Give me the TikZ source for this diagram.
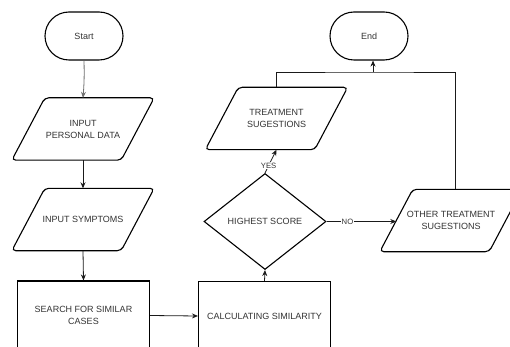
\documentclass[tikz,border=0pt]{standalone}
\usepackage{fontspec}
\setmainfont{Liberation Sans}
\usetikzlibrary{shapes.geometric,arrows.meta}
\definecolor{txt}{HTML}{333333}
\definecolor{wire}{HTML}{1A1A1A}
\definecolor{softwire}{HTML}{707070}
% slanted input/output frame around a node, 33pt of lean
\newcommand\ioframe[1]{%
  \draw[outline, rounded corners=4pt]
    ([xshift=-16.5pt]#1.south west) -- ([xshift=-16.5pt]#1.south east) --
    ([xshift=16.5pt]#1.north east) -- ([xshift=16.5pt]#1.north west) -- cycle;}
\begin{document}
\begin{tikzpicture}[x=1pt,y=-1pt,
  every node/.style={font=\fontsize{9}{12}\selectfont, text=txt, align=center, inner sep=0pt},
  outline/.style={line width=1.1pt, draw=black},
  term/.style={draw, outline, rounded corners=24pt, minimum width=78pt, minimum height=48pt},
  io/.style={rectangle, minimum width=109pt, minimum height=62pt},
  proc/.style={draw, outline, rectangle, minimum width=132pt, minimum height=69pt},
  decision/.style={draw, outline, diamond, minimum width=122pt, minimum height=96pt},
  flow/.style={line width=0.8pt, draw=wire, -{Stealth[length=6pt,width=5pt]}},
  link/.style={line width=0.8pt, draw=wire},
  tag/.style={font=\fontsize{7.7}{8}\selectfont, fill=white, inner sep=1pt}
]
% canvas
\fill[white] (0,0) rectangle (510,347);
\clip (0,0) rectangle (510,347);

% shapes
\node[term] (start) at (84,36) {Start};
\node[io] (inp1) at (83,129) {INPUT\\PERSONAL DATA};
\node[io] (inp2) at (83,219.5) {INPUT SYMPTOMS};
\node[proc] (search) at (83.5,315.5) {SEARCH FOR SIMILAR\\CASES};
\node[proc] (calc) at (264.5,316) {CALCULATING SIMILARITY};
\node[decision] (best) at (265,221.5) {HIGHEST SCORE};
\node[io] (treat) at (276.5,118.5) {TREATMENT\\SUGESTIONS};
\node[io] (other) at (451,220.5) {OTHER TREATMENT\\SUGESTIONS};
\node[term] (end) at (369,36) {End};
\coordinate (join) at (373,72);

\ioframe{inp1}
\ioframe{inp2}
\ioframe{treat}
\ioframe{other}

% connectors
\draw[flow, draw=softwire] (start.south) to[bend left=3] (inp1.north);
\draw[flow] (inp1.south) -- (inp2.north);
\draw[flow] (inp2.south) -- (search.north);
\draw[flow] (search.east) -- (calc.west);
\draw[flow] (calc.north) -- (best.south);
\draw[flow] (best.north) -- node[tag, pos=0.31] {YES} (treat.south);
\draw[flow] (best.east) -- node[tag, pos=0.3] {NO} (best.east -| other.west);
\draw[link] (treat.north) |- (join) -| ([xshift=4pt]other.north);
\draw[flow] (join) -- (join |- end.south);
\end{tikzpicture}
\end{document}
